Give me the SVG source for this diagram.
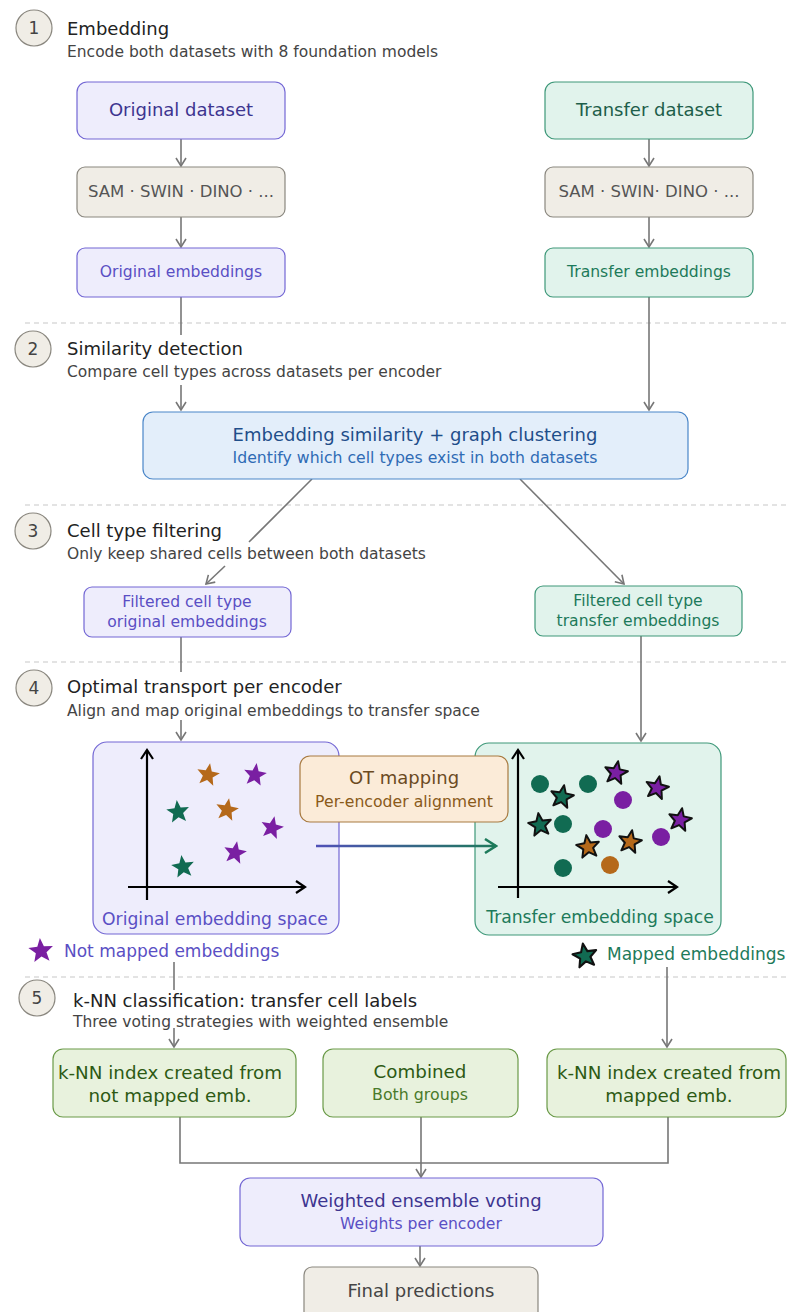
<svg xmlns="http://www.w3.org/2000/svg" width="787" height="1312" viewBox="0 0 787 1312">
<style>
text{font-family:"DejaVu Sans","Verdana",sans-serif}
.sep{stroke:#c8c8c8;stroke-width:1.2;stroke-dasharray:5 4;fill:none}
.num{fill:#f0ede6;stroke:#8a877f;stroke-width:1.2}
.numt{font-size:17px;fill:#444;text-anchor:middle}
.title{font-size:18px;fill:#222}
.sub{font-size:15.5px;fill:#444}
.c{text-anchor:middle}
.purp{fill:#eeedfc;stroke:#7367d4;stroke-width:1.2}
.teal{fill:#e1f3ec;stroke:#3e9879;stroke-width:1.2}
.gray{fill:#f0ede6;stroke:#8a877f;stroke-width:1.2}
.blue{fill:#e3eefa;stroke:#4a86c8;stroke-width:1.2}
.orng{fill:#fbebd8;stroke:#a87a40;stroke-width:1.2}
.grn{fill:#e8f2dd;stroke:#6a9a48;stroke-width:1.2}
.conn{stroke:#777;stroke-width:1.6;fill:none}
.arr{marker-end:url(#ah)}
.ax{stroke:#000;stroke-width:2.2;fill:none;marker-end:url(#axh)}
.sp{fill:#7a1fa2}.so{fill:#b5691a}.sg{fill:#116b52}
.st{stroke:#111;stroke-width:2;stroke-linejoin:round}
</style>
<defs>
<marker id="ah" viewBox="0 0 12 12" refX="10" refY="6" markerWidth="12" markerHeight="12" markerUnits="userSpaceOnUse" orient="auto">
<path d="M2,1 L10,6 L2,11" fill="none" stroke="#777" stroke-width="1.6"/>
</marker>
<marker id="axh" viewBox="0 0 14 14" refX="12" refY="7" markerWidth="14" markerHeight="14" markerUnits="userSpaceOnUse" orient="auto">
<path d="M3,1 L12,7 L3,13" fill="none" stroke="#000" stroke-width="2.2"/>
</marker>
<marker id="gh" viewBox="0 0 16 16" refX="14" refY="8" markerWidth="16" markerHeight="16" markerUnits="userSpaceOnUse" orient="auto">
<path d="M3,1 L14,8 L3,15" fill="none" stroke="#1d7a5a" stroke-width="2.5"/>
</marker>
<linearGradient id="gr" x1="316" y1="0" x2="498" y2="0" gradientUnits="userSpaceOnUse">
<stop offset="0" stop-color="#5050b8"/>
<stop offset="1" stop-color="#1d7a5a"/>
</linearGradient>
<path id="star" d="M0,-12 L3.06,-4.21 L11.41,-3.71 L4.95,1.61 L7.05,9.71 L0,5.2 L-7.05,9.71 L-4.95,1.61 L-11.41,-3.71 L-3.06,-4.21 Z"/>
</defs>

<g id="separators">
<line class="sep" x1="25" y1="323" x2="787" y2="323"/>
<line class="sep" x1="25" y1="505" x2="787" y2="505"/>
<line class="sep" x1="25" y1="662" x2="787" y2="662"/>
<line class="sep" x1="25" y1="977" x2="787" y2="977"/>
</g>

<g id="connectors">
<line class="conn arr" x1="181" y1="139" x2="181" y2="166"/>
<line class="conn arr" x1="181" y1="217" x2="181" y2="247"/>
<line class="conn arr" x1="649" y1="139" x2="649" y2="166"/>
<line class="conn arr" x1="649" y1="217" x2="649" y2="247"/>
<line class="conn" x1="181" y1="297" x2="181" y2="335"/>
<line class="conn arr" x1="181" y1="385" x2="181" y2="410"/>
<line class="conn arr" x1="649" y1="297" x2="649" y2="410"/>
<line class="conn" x1="312" y1="479" x2="249" y2="542"/>
<line class="conn arr" x1="225" y1="566" x2="206" y2="584"/>
<line class="conn arr" x1="520" y1="479" x2="624" y2="584"/>
<line class="conn" x1="181" y1="637" x2="181" y2="672"/>
<line class="conn arr" x1="181" y1="720" x2="181" y2="740"/>
<line class="conn arr" x1="641" y1="636" x2="641" y2="741"/>
<line class="conn" x1="174" y1="962" x2="174" y2="990"/>
<line class="conn arr" x1="174" y1="1028" x2="174" y2="1047"/>
<line class="conn arr" x1="667" y1="967" x2="667" y2="1047"/>
<path class="conn" d="M180,1117 V1163 H668 V1117"/>
<line class="conn arr" x1="421" y1="1117" x2="421" y2="1177"/>
<line class="conn arr" x1="420" y1="1246" x2="420" y2="1266"/>
</g>

<g id="step1">
<circle class="num" cx="34" cy="28" r="18"/>
<text class="numt" x="34" y="34">1</text>
<text class="title" x="67" y="35">Embedding</text>
<text class="sub" x="67" y="57">Encode both datasets with 8 foundation models</text>
</g>
<g id="original-dataset">
<rect class="purp" x="77" y="82" width="208" height="57" rx="10"/>
<text class="c" x="181" y="116" font-size="18" fill="#3d3590">Original dataset</text>
</g>
<g id="encoders-left">
<rect class="gray" x="77" y="167" width="208" height="50" rx="8"/>
<text class="c" x="181" y="197" font-size="16.5" fill="#555">SAM · SWIN · DINO · ...</text>
</g>
<g id="original-embeddings">
<rect class="purp" x="77" y="248" width="208" height="49" rx="8"/>
<text class="c" x="181" y="277" font-size="15.6" fill="#5a4fc4">Original embeddings</text>
</g>
<g id="transfer-dataset">
<rect class="teal" x="545" y="82" width="208" height="57" rx="10"/>
<text class="c" x="649" y="116" font-size="18" fill="#1d5e4a">Transfer dataset</text>
</g>
<g id="encoders-right">
<rect class="gray" x="545" y="167" width="208" height="50" rx="8"/>
<text class="c" x="649" y="197" font-size="16.5" fill="#555">SAM · SWIN· DINO · ...</text>
</g>
<g id="transfer-embeddings">
<rect class="teal" x="545" y="248" width="208" height="49" rx="8"/>
<text class="c" x="649" y="277" font-size="15.6" fill="#1d7a5a">Transfer embeddings</text>
</g>

<g id="step2">
<circle class="num" cx="33" cy="349" r="18"/>
<text class="numt" x="33" y="355">2</text>
<text class="title" x="67" y="355">Similarity detection</text>
<text class="sub" x="67" y="377">Compare cell types across datasets per encoder</text>
</g>
<g id="similarity">
<rect class="blue" x="143" y="412" width="545" height="67" rx="10"/>
<text class="c" x="415" y="441" font-size="18" fill="#1f4e8a">Embedding similarity + graph clustering</text>
<text class="c" x="415" y="463" font-size="15.7" fill="#2f6bb5">Identify which cell types exist in both datasets</text>
</g>

<g id="step3">
<circle class="num" cx="33" cy="531" r="18"/>
<text class="numt" x="33" y="537">3</text>
<text class="title" x="67" y="537">Cell type filtering</text>
<text class="sub" x="67" y="559">Only keep shared cells between both datasets</text>
</g>
<g id="filtered-original">
<rect class="purp" x="84" y="587" width="207" height="50" rx="8"/>
<text class="c" x="187" y="607" font-size="15.6" fill="#5a4fc4">Filtered cell type</text>
<text class="c" x="187" y="627" font-size="15.6" fill="#5a4fc4">original embeddings</text>
</g>
<g id="filtered-transfer">
<rect class="teal" x="535" y="586" width="207" height="50" rx="8"/>
<text class="c" x="638" y="606" font-size="15.6" fill="#1d7a5a">Filtered cell type</text>
<text class="c" x="638" y="626" font-size="15.6" fill="#1d7a5a">transfer embeddings</text>
</g>

<g id="step4">
<circle class="num" cx="34" cy="688" r="18"/>
<text class="numt" x="34" y="694">4</text>
<text class="title" x="67" y="693">Optimal transport per encoder</text>
<text class="sub" x="67" y="716">Align and map original embeddings to transfer space</text>
</g>
<g id="original-space">
<rect class="purp" x="93" y="742" width="246" height="192" rx="14"/>
<line class="ax" x1="147" y1="900" x2="147" y2="750"/>
<line class="ax" x1="128" y1="887" x2="305" y2="887"/>
<use href="#star" class="so" transform="translate(208,775) rotate(10)"/>
<use href="#star" class="sp" transform="translate(255,775) rotate(8)"/>
<use href="#star" class="sg" transform="translate(178,812) rotate(-6)"/>
<use href="#star" class="so" transform="translate(227,810) rotate(10)"/>
<use href="#star" class="sp" transform="translate(272,828) rotate(12)"/>
<use href="#star" class="sp" transform="translate(235,853) rotate(10)"/>
<use href="#star" class="sg" transform="translate(183,867) rotate(-8)"/>
<text class="c" x="215" y="925" font-size="17.2" fill="#5a4fc4">Original embedding space</text>
</g>
<g id="transfer-space">
<rect class="teal" x="475" y="743" width="246" height="192" rx="14"/>
<line class="ax" x1="518" y1="898" x2="518" y2="750"/>
<line class="ax" x1="498" y1="887" x2="677" y2="887"/>
<circle cx="540" cy="784" r="9" fill="#116b52"/>
<circle cx="588" cy="784" r="9" fill="#116b52"/>
<circle cx="623" cy="800" r="9" fill="#7a1fa2"/>
<circle cx="563" cy="824" r="9" fill="#116b52"/>
<circle cx="603" cy="829" r="9" fill="#7a1fa2"/>
<circle cx="661" cy="837" r="9" fill="#7a1fa2"/>
<circle cx="563" cy="868" r="9" fill="#116b52"/>
<circle cx="610" cy="865" r="9" fill="#b5691a"/>
<use href="#star" class="sp st" transform="translate(616,773) rotate(10)"/>
<use href="#star" class="sg st" transform="translate(562,797) rotate(10)"/>
<use href="#star" class="sp st" transform="translate(657,788) rotate(12)"/>
<use href="#star" class="sg st" transform="translate(540,825) rotate(-8)"/>
<use href="#star" class="sp st" transform="translate(680,820) rotate(10)"/>
<use href="#star" class="so st" transform="translate(630,842) rotate(10)"/>
<use href="#star" class="so st" transform="translate(588,847) rotate(-8)"/>
<text class="c" x="600" y="923" font-size="17.2" fill="#1d7a5a">Transfer embedding space</text>
</g>
<g id="ot-mapping">
<rect class="orng" x="300" y="756" width="208" height="66" rx="10"/>
<text class="c" x="404" y="784" font-size="18" fill="#6b4a1f">OT mapping</text>
<text class="c" x="404" y="807" font-size="15.7" fill="#8a5a1a">Per-encoder alignment</text>
</g>
<g id="ot-connector">
<line stroke="url(#gr)" stroke-width="2.5" x1="316" y1="846" x2="496" y2="846" marker-end="url(#gh)"/>
</g>
<g id="legend">
<use href="#star" class="sp" transform="translate(41,951) rotate(-5) scale(1.08)"/>
<text x="64" y="957" font-size="17" fill="#5a4fc4">Not mapped embeddings</text>
<use href="#star" class="sg st" transform="translate(585,956) rotate(-10) scale(1.05)"/>
<text x="607" y="960" font-size="17" fill="#1d7a5a">Mapped embeddings</text>
</g>

<g id="step5">
<circle class="num" cx="37" cy="998" r="18"/>
<text class="numt" x="37" y="1004">5</text>
<text x="73" y="1007" font-size="18" fill="#222">k-NN classification: transfer cell labels</text>
<text x="73" y="1027" font-size="15.5" fill="#444">Three voting strategies with weighted ensemble</text>
</g>
<g id="knn-not-mapped">
<rect class="grn" x="53" y="1049" width="243" height="68" rx="10"/>
<text class="c" x="170" y="1079" font-size="18.3" fill="#2d5a14">k-NN index created from</text>
<text class="c" x="170" y="1102" font-size="18.3" fill="#2d5a14">not mapped emb.</text>
</g>
<g id="combined">
<rect class="grn" x="323" y="1049" width="195" height="68" rx="10"/>
<text class="c" x="420" y="1078" font-size="18.3" fill="#2d5a14">Combined</text>
<text class="c" x="420" y="1100" font-size="15.8" fill="#4a7a2a">Both groups</text>
</g>
<g id="knn-mapped">
<rect class="grn" x="547" y="1049" width="239" height="68" rx="10"/>
<text class="c" x="669" y="1079" font-size="18.3" fill="#2d5a14">k-NN index created from</text>
<text class="c" x="669" y="1102" font-size="18.3" fill="#2d5a14">mapped emb.</text>
</g>
<g id="ensemble">
<rect class="purp" x="240" y="1178" width="363" height="68" rx="10"/>
<text class="c" x="421" y="1207" font-size="18" fill="#3d3590">Weighted ensemble voting</text>
<text class="c" x="421" y="1229" font-size="15.6" fill="#5a4fc4">Weights per encoder</text>
</g>
<g id="final">
<rect class="gray" x="304" y="1267" width="234" height="60" rx="8"/>
<text class="c" x="421" y="1297" font-size="18" fill="#444">Final predictions</text>
</g>
</svg>
